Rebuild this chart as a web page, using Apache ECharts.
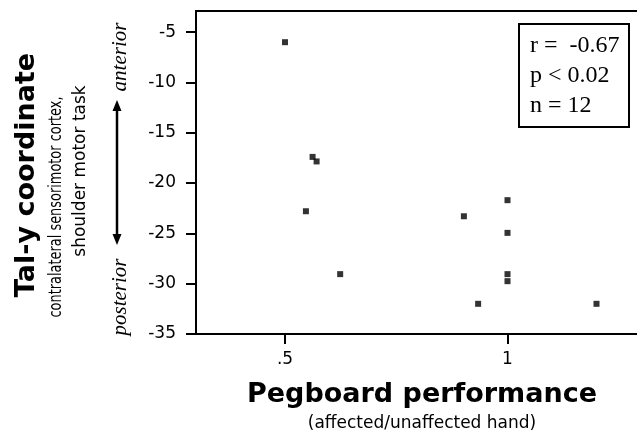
<!DOCTYPE html>
<html>
<head>
<meta charset="utf-8">
<script src="https://cdn.jsdelivr.net/npm/echarts@6/dist/echarts.min.js"></script>
<style>
html,body{margin:0;padding:0;background:#fff;}
#chart{width:637px;height:439px;}
</style>
</head>
<body>
<div id="chart"></div>
<script>
// Pegboard performance (affected/unaffected hand)
const pegboard = [0.50, 0.562, 0.571, 0.547, 0.624, 0.902, 1.0, 1.0, 1.0, 1.0, 0.934, 1.20];
// Tal-y coordinate
const talY = [-6.0, -17.4, -17.85, -22.8, -29.05, -23.3, -21.7, -24.95, -29.05, -29.75, -32.0, -32.0];
const xTicks = [0.5, 1];
const xTickLabels = ['.5', '1'];
const yTicks = [-35, -30, -25, -20, -15, -10, -5];
const statLines = ['r =  -0.67', 'p < 0.02', 'n = 12'];
const xTitle = 'Pegboard performance';
const xSubtitle = '(affected/unaffected hand)';
const yTitle = 'Tal-y coordinate';
const ySub1 = 'contralateral sensorimotor cortex,';
const ySub2 = 'shoulder motor task';
const dirTop = 'anterior';
const dirBottom = 'posterior';

const points = pegboard.map((x, i) => [x, talY[i]]);
const chart = echarts.init(document.getElementById('chart'), null, {renderer: 'canvas'});

const sans = 'DejaVu Sans';

function txt(x, y, text, font, extra, align) {
  return Object.assign({type: 'text', x: x, y: y,
    style: {text: text, font: font, fill: '#000', textAlign: align || 'center', align: align || 'center',
      textVerticalAlign: 'middle', verticalAlign: 'middle'}}, extra || {});
}

chart.setOption({
  animation: false,
  backgroundColor: '#fff',
  grid: {left: 196, top: 11, width: 445, height: 323, outerBoundsMode: 'none', containLabel: false,
    show: true, borderColor: '#000', borderWidth: 2, backgroundColor: 'transparent'},
  xAxis: {
    type: 'value', min: 0.3, max: 1.3,
    axisLine: {show: true, lineStyle: {color: '#000', width: 2}},
    axisTick: {show: true, length: 10, customValues: xTicks, lineStyle: {color: '#000', width: 2}},
    axisLabel: {customValues: xTicks, color: '#000', fontFamily: sans, fontSize: 17, margin: 17,
      formatter: v => { const i = xTicks.indexOf(v); return i >= 0 ? xTickLabels[i] : ''; }},
    splitLine: {show: false}
  },
  yAxis: {
    type: 'value', min: -35, max: -2.9,
    axisLine: {show: true, lineStyle: {color: '#000', width: 2}},
    axisTick: {show: true, length: 10, customValues: yTicks, lineStyle: {color: '#000', width: 2}},
    axisLabel: {customValues: yTicks, color: '#000', fontFamily: sans, fontSize: 17, margin: 20},
    splitLine: {show: false}
  },
  series: [{
    type: 'scatter', data: points, symbol: 'rect', symbolSize: 6,
    itemStyle: {color: '#000'}
  }],
  graphic: [
    {type: 'rect', shape: {x: 519, y: 24, width: 110, height: 103}, style: {fill: '#fff', stroke: '#000', lineWidth: 2}, z: 100},
    ...statLines.map((t, i) => txt(530, 46 + i * 30, t, '24px "Liberation Serif"', {z: 101}, 'left')),
    txt(422, 395, xTitle, 'bold 27px "DejaVu Sans"'),
    txt(422, 424, xSubtitle, '17px "DejaVu Sans"'),
    txt(27, 175, yTitle, 'bold 27px "DejaVu Sans"', {rotation: Math.PI / 2}),
    txt(57, 207, ySub1, '17px "DejaVu Sans"', {rotation: Math.PI / 2, scaleX: 0.76}),
    txt(81, 171, ySub2, '17px "DejaVu Sans"', {rotation: Math.PI / 2}),
    txt(120, 57, dirTop, 'italic 21px "Liberation Serif"', {rotation: Math.PI / 2}),
    txt(120, 297, dirBottom, 'italic 21px "Liberation Serif"', {rotation: Math.PI / 2}),
    {type: 'line', shape: {x1: 117, y1: 108, x2: 117, y2: 237}, style: {stroke: '#000', lineWidth: 2.5}},
    {type: 'polygon', shape: {points: [[117, 100], [112.5, 111], [121.5, 111]]}, style: {fill: '#000'}},
    {type: 'polygon', shape: {points: [[117, 245], [112.5, 234], [121.5, 234]]}, style: {fill: '#000'}}
  ]
});
</script>
</body>
</html>
